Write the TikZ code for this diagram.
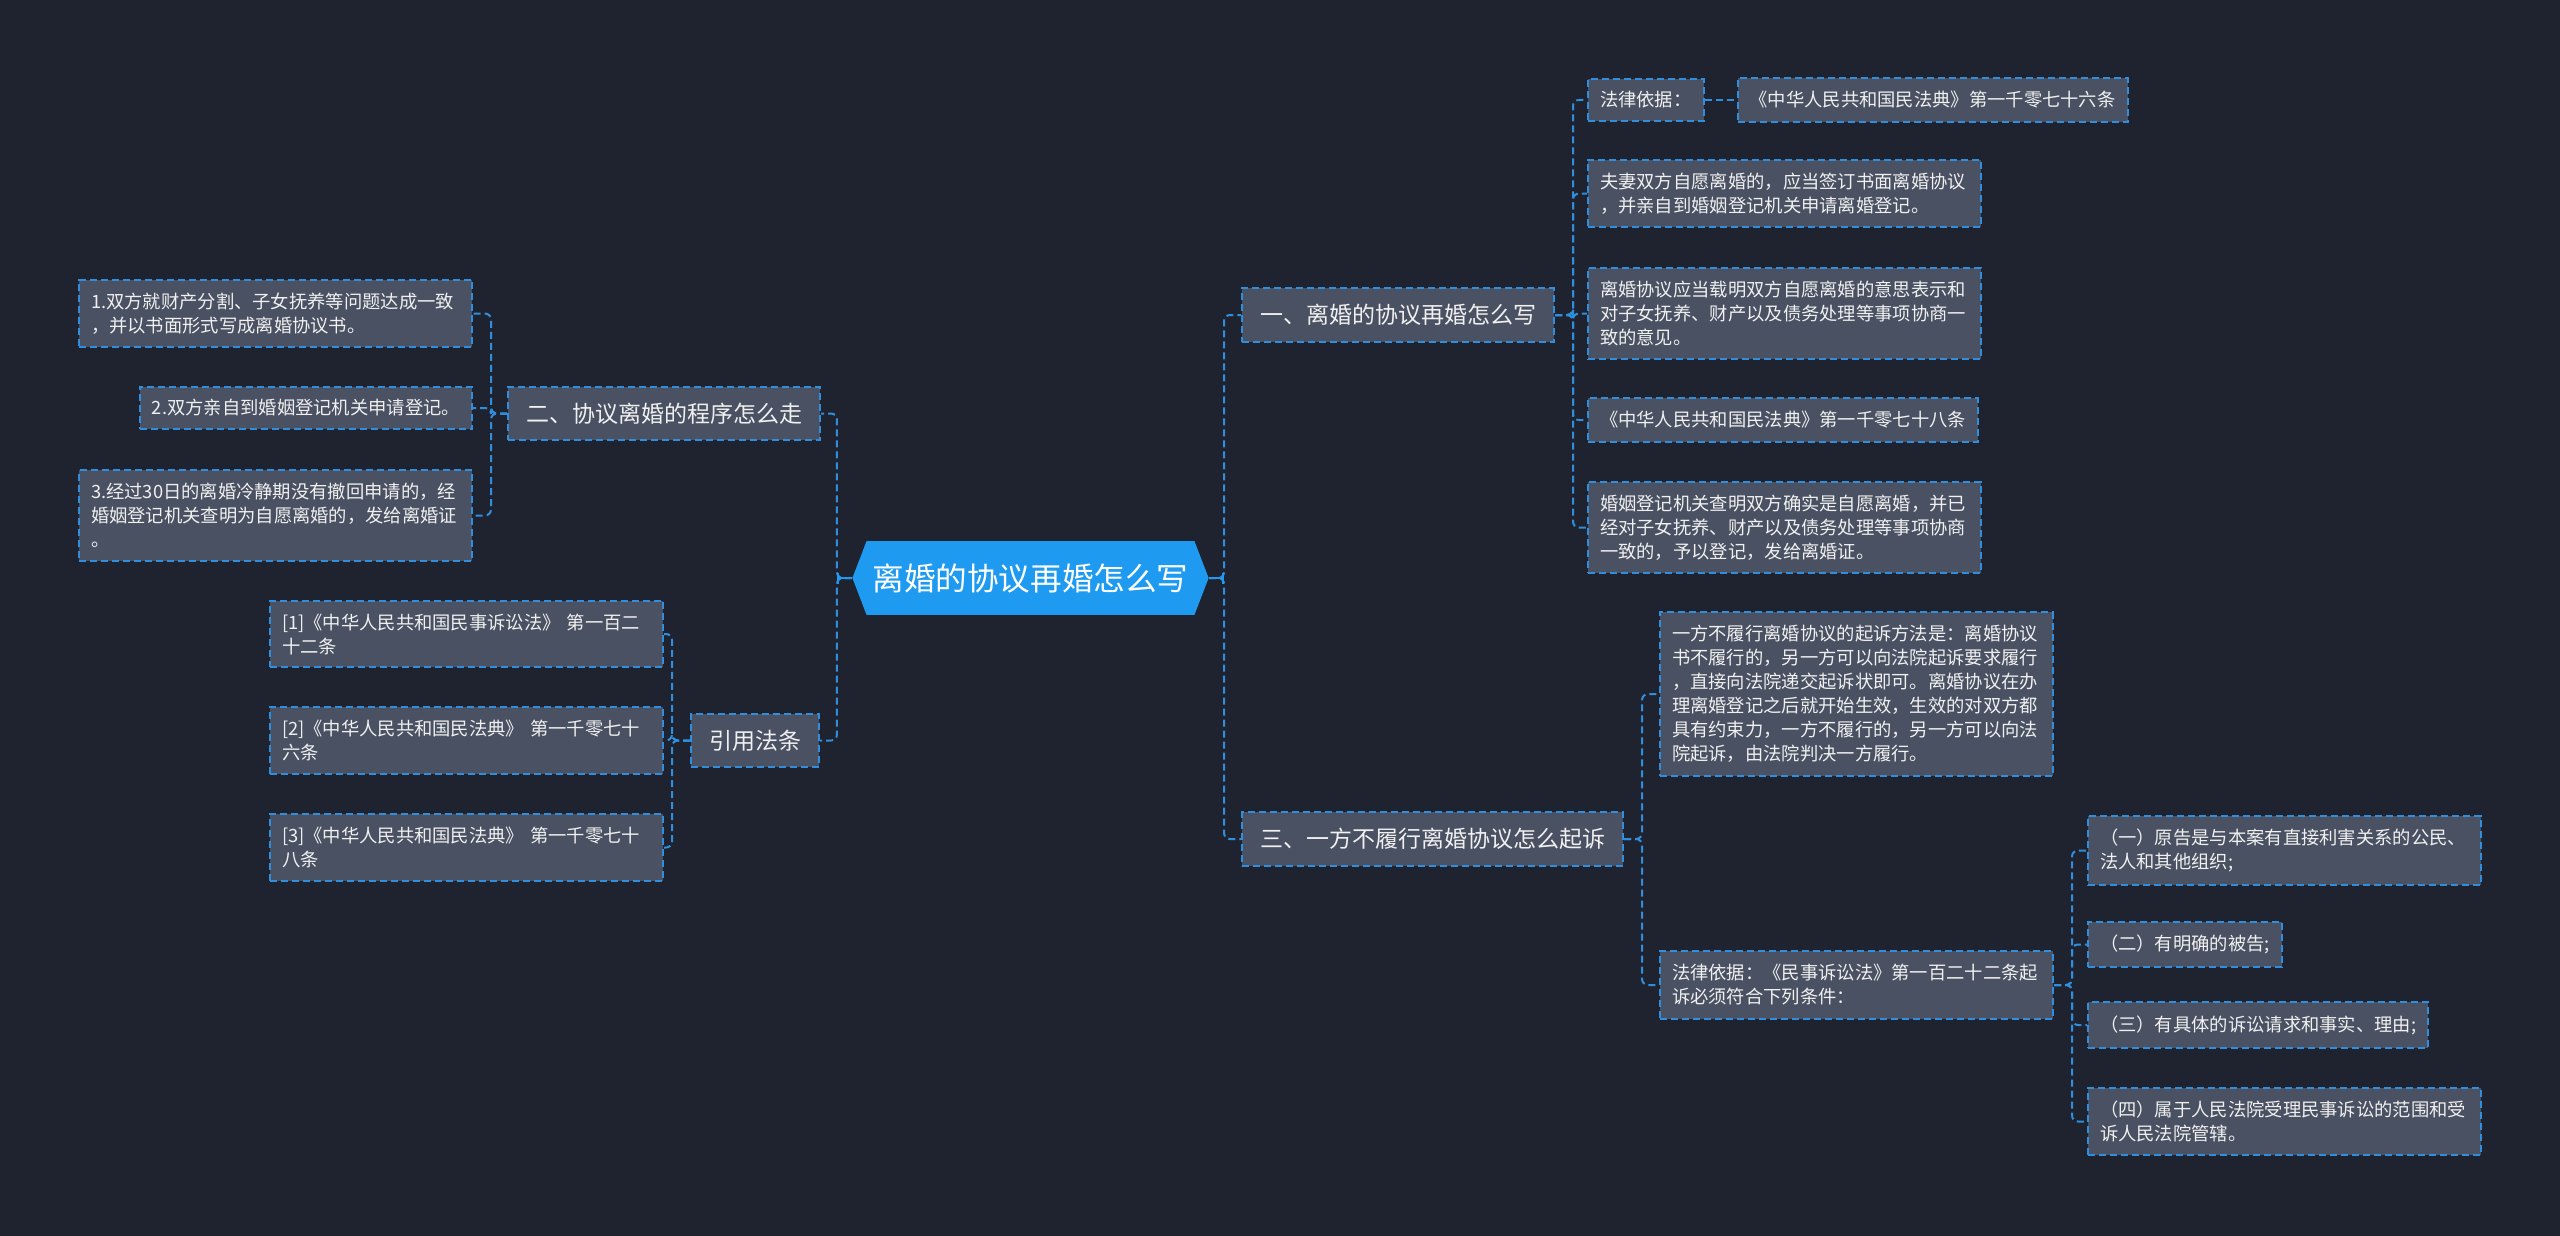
\documentclass[tikz,border=0pt]{standalone}
\usepackage{fontspec}
\setmainfont{Noto Sans CJK SC}
\usepackage{xcolor}
\usepackage{tikz}
\usetikzlibrary{positioning,shapes.symbols,arrows.meta}
\definecolor{bgdark}{HTML}{1F2330}
\definecolor{boxgray}{HTML}{4A5162}
\definecolor{linkblue}{HTML}{2F8FDE}
\definecolor{hubblue}{HTML}{1E9BF0}
\definecolor{txtwhite}{HTML}{F0F0F0}

\begin{document}
\begin{tikzpicture}[x=0.5pt,y=-0.5pt,
    hub/.style={signal,signal to=east and west,signal pointer angle=138,fill=hubblue,text=white,inner xsep=3pt,inner ysep=11pt,font=\fontsize{15.8pt}{18pt}\selectfont},
    topic/.style={rectangle,fill=boxgray,draw=linkblue,dash pattern=on 3.5pt off 2pt,line width=1pt,text=txtwhite,inner xsep=9pt,inner ysep=8pt,font=\fontsize{11.5pt}{14pt}\selectfont},
    leaf/.style={rectangle,fill=boxgray,draw=linkblue,dash pattern=on 3.5pt off 2pt,line width=1pt,text=txtwhite,align=left,inner xsep=6pt,inner ysep=6.5pt,font=\fontsize{9.15pt}{12pt}\selectfont},
    wide/.style={leaf,text width=184.5pt},
    link/.style={draw=linkblue,line width=1pt,dash pattern=on 3.5pt off 2pt,rounded corners=3pt},
    stub/.style={draw=hubblue,line width=1.2pt,-{Bar[width=5.5pt,line width=1.2pt]}}
    ]
    \fill[bgdark] (0,0) rectangle (2560,1236);
    \useasboundingbox (0,0) rectangle (2560,1236);

    \node[hub] (hub) at (1030.5,578) {离婚的协议再婚怎么写};

    % right half
    \node[topic,anchor=west] (how) at (1241,315) {一、离婚的协议再婚怎么写};
    \node[topic,anchor=west] (sue) at (1241,839) {三、一方不履行离婚协议怎么起诉};

    \node[leaf,anchor=west] (basis1) at (1587,100) {法律依据：};
    \node[leaf,right=16pt of basis1] (art1076) {《中华人民共和国民法典》第一千零七十六条};
    \node[wide,anchor=west] (mutual) at (1587,193.5) {夫妻双方自愿离婚的，应当签订书面离婚协议\\，并亲自到婚姻登记机关申请离婚登记。};
    \node[wide,anchor=west] (content) at (1587,313.5) {离婚协议应当载明双方自愿离婚的意思表示和\\对子女抚养、财产以及债务处理等事项协商一\\致的意见。};
    \node[leaf,anchor=west] (art1078) at (1587,420) {《中华人民共和国民法典》第一千零七十八条};
    \node[wide,anchor=west] (grant) at (1587,527.5) {婚姻登记机关查明双方确实是自愿离婚，并已\\经对子女抚养、财产以及债务处理等事项协商\\一致的，予以登记，发给离婚证。};

    \node[wide,anchor=west] (method) at (1659,694) {一方不履行离婚协议的起诉方法是：离婚协议\\书不履行的，另一方可以向法院起诉要求履行\\，直接向法院递交起诉状即可。离婚协议在办\\理离婚登记之后就开始生效，生效的对双方都\\具有约束力，一方不履行的，另一方可以向法\\院起诉，由法院判决一方履行。};
    \node[wide,anchor=west] (basis2) at (1659,985) {法律依据：《民事诉讼法》第一百二十二条起\\诉必须符合下列条件：};

    \node[wide,anchor=west] (cond1) at (2087,850.5) {（一）原告是与本案有直接利害关系的公民、\\法人和其他组织;};
    \node[leaf,anchor=west] (cond2) at (2087,944.5) {（二）有明确的被告;};
    \node[leaf,anchor=west] (cond3) at (2087,1025) {（三）有具体的诉讼请求和事实、理由;};
    \node[wide,anchor=west] (cond4) at (2087,1121.5) {（四）属于人民法院受理民事诉讼的范围和受\\诉人民法院管辖。};

    % left half
    \node[topic,anchor=east] (steps) at (821,413.5) {二、协议离婚的程序怎么走};
    \node[topic,anchor=east] (cite) at (820,740.5) {引用法条};

    \node[wide,anchor=east] (step1) at (473,313.5) {1.双方就财产分割、子女抚养等问题达成一致\\，并以书面形式写成离婚协议书。};
    \node[leaf,anchor=east] (step2) at (473,408) {2.双方亲自到婚姻登记机关申请登记。};
    \node[wide,anchor=east] (step3) at (473,515.5) {3.经过30日的离婚冷静期没有撤回申请的，经\\婚姻登记机关查明为自愿离婚的，发给离婚证\\。};

    \node[wide,anchor=east] (ref1) at (664,634) {[1]《中华人民共和国民事诉讼法》 第一百二\\十二条};
    \node[wide,anchor=east] (ref2) at (664,740.5) {[2]《中华人民共和国民法典》 第一千零七十\\六条};
    \node[wide,anchor=east] (ref3) at (664,847.5) {[3]《中华人民共和国民法典》 第一千零七十\\八条};

    \draw[link] (hub.east) -- ++(15,0) |- (how.west);
    \draw[link] (hub.east) -- ++(15,0) |- (sue.west);
    \draw[stub] (hub.east) -- ++(15,0);
    \draw[link] (hub.west) -- ++(-15,0) |- (steps.east);
    \draw[link] (hub.west) -- ++(-15,0) |- (cite.east);
    \draw[stub] (hub.west) -- ++(-15,0);

    \foreach \leafname in {basis1,mutual,content,art1078,grant}
      \draw[link] (how.east) -- ++(18,0) |- (\leafname.west);
    \draw[link] (basis1.east) -- (art1076.west);

    \foreach \leafname in {method,basis2}
      \draw[link] (sue.east) -- ++(18,0) |- (\leafname.west);
    \foreach \leafname in {cond1,cond2,cond3,cond4}
      \draw[link] (basis2.east) -- ++(18,0) |- (\leafname.west);

    \foreach \leafname in {step1,step2,step3}
      \draw[link] (steps.west) -- ++(-16,0) |- (\leafname.east);
    \foreach \leafname in {ref1,ref2,ref3}
      \draw[link] (cite.west) -- ++(-18,0) |- (\leafname.east);

  \end{tikzpicture}
\end{document}
